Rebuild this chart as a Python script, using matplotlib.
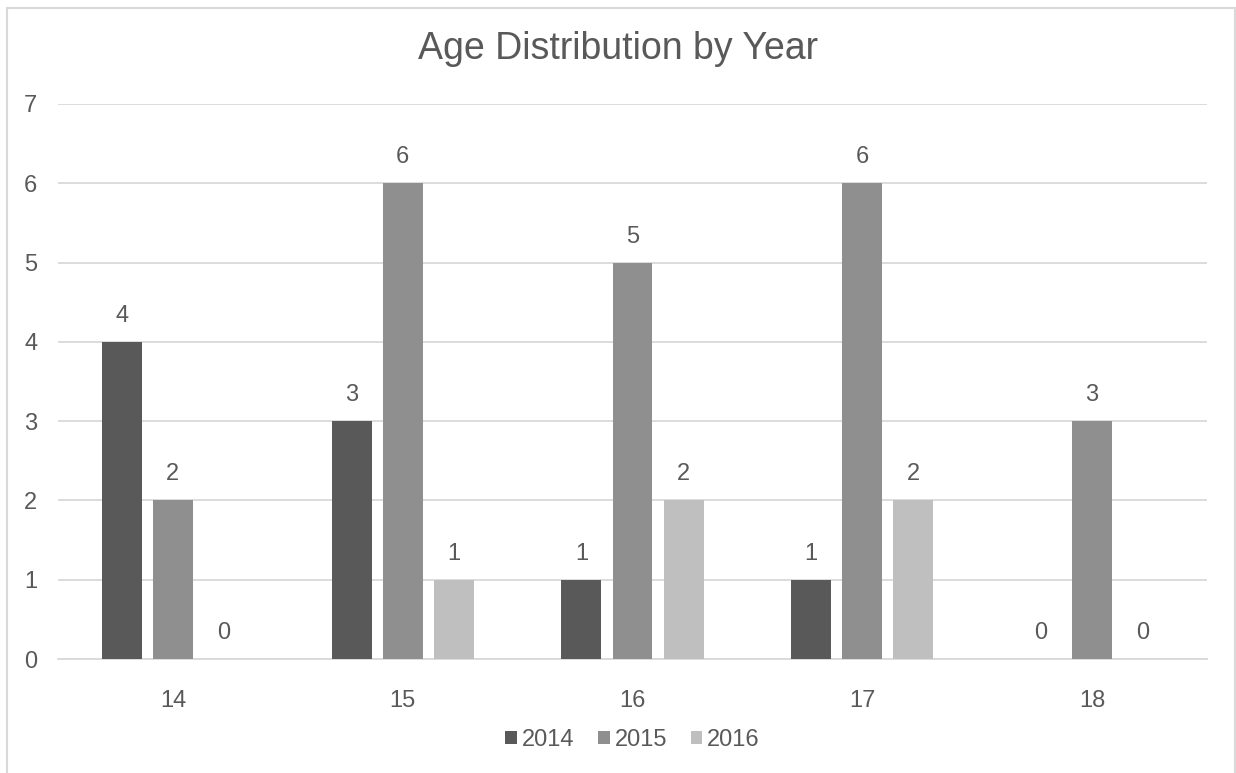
import numpy as np
import matplotlib
matplotlib.use("Agg")
import matplotlib.pyplot as plt
from matplotlib.patches import Rectangle

plt.rcParams['font.family'] = ['Liberation Sans', 'DejaVu Sans']

ages = ['14', '15', '16', '17', '18']
years = ['2014', '2015', '2016']
counts_2014 = [4, 3, 1, 1, 0]
counts_2015 = [2, 6, 5, 6, 3]
counts_2016 = [0, 1, 2, 2, 0]
series = [counts_2014, counts_2015, counts_2016]
colors = ['#595959', '#8f8f8f', '#bfbfbf']
txt = '#595959'

fig = plt.figure(figsize=(12.36, 7.73), dpi=100)
# chart border (bottom edge is cut off in the original)
fig.add_artist(Rectangle((7 / 1236, -0.05), 1228 / 1236, 1 - 7.5 / 773 + 0.05,
                         transform=fig.transFigure, fill=False,
                         edgecolor='#d9d9d9', lw=1.5))

ax = fig.add_axes([58 / 1236, 1 - 659 / 773, 1149 / 1236, 555 / 773])
x = np.arange(len(ages))
offs = [-0.222, 0, 0.222]
w = 0.174
for vals, off, c, yr in zip(series, offs, colors, years):
    ax.bar(x + off, vals, width=w, color=c, label=yr, zorder=3)
    for xi, v in zip(x + off, vals):
        ax.text(xi, v + 0.19, str(v), ha='center', va='bottom',
                fontsize=17, color=txt)

ax.set_xlim(-0.5, 4.5)
ax.set_ylim(0, 7)
ax.set_yticks(range(8))
ax.set_xticks(x)
ax.set_xticklabels(ages)
ax.tick_params(axis='both', length=0, labelsize=17, colors=txt)
ax.tick_params(axis='y', pad=15)
ax.tick_params(axis='x', pad=22)
ax.grid(axis='y', color='#d9d9d9', lw=1.3, zorder=0)
for s in ['top', 'right', 'left']:
    ax.spines[s].set_visible(False)
ax.spines['bottom'].set_color('#d9d9d9')
ax.spines['bottom'].set_linewidth(1.3)

fig.text(0.5, 1 - 49 / 773, 'Age Distribution by Year', ha='center',
         va='center', fontsize=27, color=txt)

ax.legend(loc='center', bbox_to_anchor=(0.5, (740 - 659) / -555),
          ncol=3, frameon=False, fontsize=17, handlelength=0.5,
          handleheight=0.5, handletextpad=0.2, columnspacing=1.0,
          labelcolor=txt)

fig.savefig('out.png', dpi=100)
